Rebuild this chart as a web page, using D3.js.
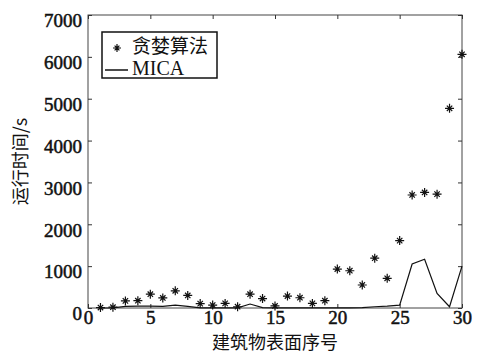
<!DOCTYPE html>
<html>
<head>
<meta charset="utf-8">
<script src="https://cdn.jsdelivr.net/npm/d3@7"></script>
<style>
  body { margin: 0; background: #fff; }
</style>
</head>
<body>
<div id="viz"></div>
<script>
/*** data ***/
const surfaceIds = d3.range(1, 31);
const greedyTimes = [10, 20, 170, 175, 330, 240, 410, 300, 105, 70,
  110, 30, 330, 225, 50, 285, 245, 110, 175, 930,
  890, 550, 1190, 710, 1610, 2700, 2760, 2720, 4770, 6060];
const micaTimes = [0, 5, 40, 45, 45, 40, 70, 40, 5, 5,
  5, 5, 95, 10, 5, 5, 5, 5, 5, 5,
  5, 10, 30, 45, 70, 1050, 1165, 350, 30, 1000];
const xTicks = [0, 5, 10, 15, 20, 25, 30];
const yTicks = [0, 1000, 2000, 3000, 4000, 5000, 6000, 7000];

const serif = 'Liberation Serif';
const cjk = 'Noto Sans CJK SC';

/*** layout ***/
const width = 478, height = 354;
const margin = { top: 15, right: 16, bottom: 46, left: 88 };

const svg = d3.select('#viz')
  .append('svg')
  .attr('width', width)
  .attr('height', height);

const x = d3.scaleLinear()
  .domain([0, 30])
  .range([margin.left, width - margin.right]);

const y = d3.scaleLinear()
  .domain([0, 7000])
  .range([height - margin.bottom, margin.top]);

// frame
svg.append('rect')
  .attr('x', x(0))
  .attr('y', y(7000))
  .attr('width', x(30) - x(0))
  .attr('height', y(0) - y(7000))
  .attr('fill', 'none')
  .attr('stroke', '#444')
  .attr('stroke-width', 1);

// ticks (inside, mirrored)
const tickLen = 4;
const axisStyle = g => {
  g.attr('font-family', null).attr('font-size', null);
  g.select('.domain').remove();
  g.selectAll('.tick line').attr('stroke', '#333');
};

svg.append('g')
  .attr('transform', `translate(0,${y(0)})`)
  .call(d3.axisBottom(x).tickValues(xTicks).tickSizeInner(-tickLen).tickSizeOuter(0).tickPadding(3).tickFormat(d3.format('d')))
  .call(axisStyle)
  .call(g => g.selectAll('text')
    .attr('font-family', serif)
    .attr('font-size', 19)
    .attr('dy', '0.68em')
    .attr('fill', '#111')
    .attr('stroke', '#111')
    .attr('stroke-width', 0.5));

svg.append('g')
  .attr('transform', `translate(0,${y(7000)})`)
  .call(d3.axisTop(x).tickValues(xTicks).tickSizeInner(-tickLen).tickSizeOuter(0).tickFormat(''))
  .call(axisStyle);

svg.append('g')
  .attr('transform', `translate(${x(0)},0)`)
  .call(d3.axisLeft(y).tickValues(yTicks).tickSizeInner(-tickLen).tickSizeOuter(0).tickPadding(6).tickFormat(d3.format('d')))
  .call(axisStyle)
  .call(g => g.selectAll('text')
    .attr('font-family', serif)
    .attr('font-size', 19)
    .attr('fill', '#111')
    .attr('stroke', '#111')
    .attr('stroke-width', 0.5)
    .attr('dy', '0.62em'));

svg.append('g')
  .attr('transform', `translate(${x(30)},0)`)
  .call(d3.axisRight(y).tickValues(yTicks).tickSizeInner(-tickLen).tickSizeOuter(0).tickFormat(''))
  .call(axisStyle);

// MICA line
const line = d3.line()
  .x((d, i) => x(surfaceIds[i]))
  .y(d => y(d));

svg.append('path')
  .datum(micaTimes)
  .attr('d', line)
  .attr('fill', 'none')
  .attr('stroke', '#111')
  .attr('stroke-width', 1.2);

// greedy asterisks
function starPath(r) {
  const d = r * 0.6;
  return `M0,${-r}V${r}M${-r},0H${r}M${-d},${-d}L${d},${d}M${-d},${d}L${d},${-d}`;
}

svg.append('g')
  .selectAll('path')
  .data(greedyTimes)
  .join('path')
  .attr('transform', (d, i) => `translate(${x(surfaceIds[i])},${y(d)})`)
  .attr('d', starPath(4.5))
  .attr('stroke', '#111')
  .attr('stroke-width', 1.2)
  .attr('fill', 'none');

// axis titles
svg.append('text')
  .attr('x', (x(0) + x(30)) / 2)
  .attr('y', 348.5)
  .attr('text-anchor', 'middle')
  .attr('font-family', cjk)
  .attr('font-size', 18)
  .attr('fill', '#111')
  .text('建筑物表面序号');

svg.append('text')
  .attr('transform', `translate(27,${(y(0) + y(7000)) / 2}) rotate(-90)`)
  .attr('text-anchor', 'middle')
  .attr('font-family', cjk)
  .attr('font-size', 18)
  .attr('fill', '#111')
  .text('运行时间/s');

// legend
const legend = svg.append('g').attr('transform', 'translate(102,32)');
legend.append('rect')
  .attr('width', 115)
  .attr('height', 46)
  .attr('fill', '#fff')
  .attr('stroke', '#111')
  .attr('stroke-width', 1.5);
legend.append('path')
  .attr('transform', 'translate(15,16)')
  .attr('d', starPath(4))
  .attr('stroke', '#111')
  .attr('stroke-width', 1.2);
legend.append('text')
  .attr('x', 30)
  .attr('y', 21)
  .attr('font-family', cjk)
  .attr('font-size', 19)
  .attr('fill', '#111')
  .text('贪婪算法');
legend.append('line')
  .attr('x1', 3).attr('x2', 26)
  .attr('y1', 38).attr('y2', 38)
  .attr('stroke', '#111')
  .attr('stroke-width', 1.5);
legend.append('text')
  .attr('x', 30)
  .attr('y', 43)
  .attr('font-family', serif)
  .attr('font-size', 20)
  .attr('fill', '#111')
  .text('MICA');
</script>
</body>
</html>
